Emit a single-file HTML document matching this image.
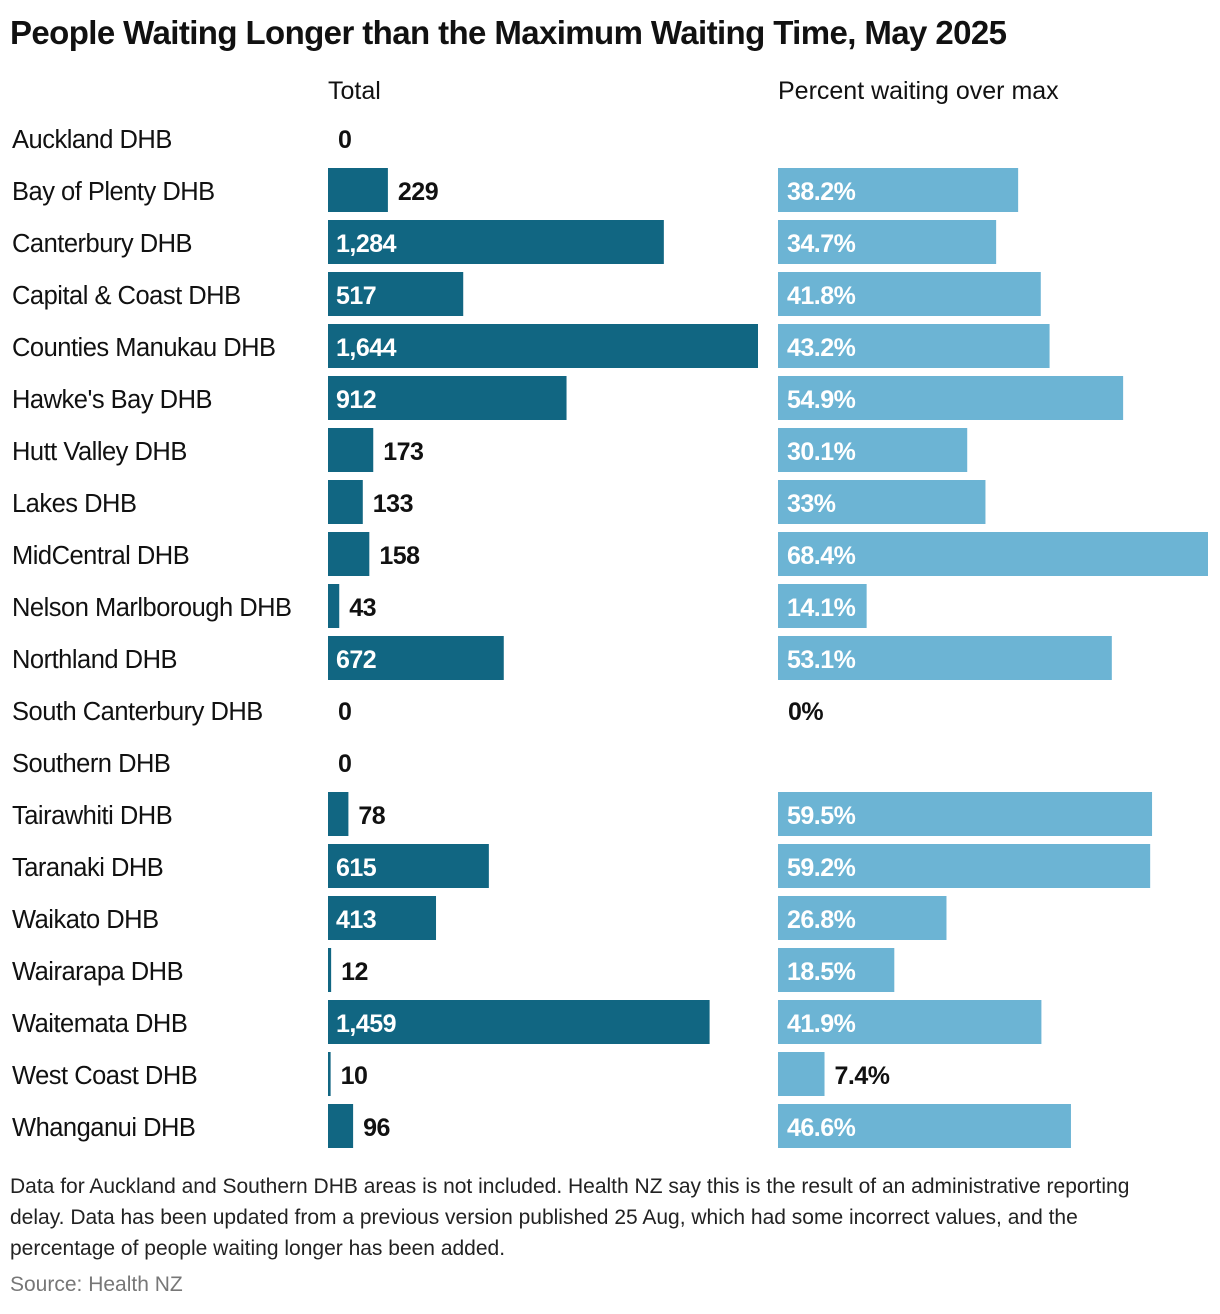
<!DOCTYPE html>
<html><head><meta charset="utf-8"><style>
body{margin:0;background:#fff;font-family:"Liberation Sans",sans-serif;color:#111;}
#wrap{position:relative;width:1220px;height:1314px;overflow:hidden;}
.t{position:absolute;white-space:nowrap;}
</style></head><body>
<div id="wrap">
<div class="t" style="left:10px;top:14px;font-size:33px;font-weight:bold;letter-spacing:-0.6px;">People Waiting Longer than the Maximum Waiting Time, May 2025</div>
<div class="t" style="left:328px;top:77px;font-size:25px;">Total</div>
<div class="t" style="left:778px;top:77px;font-size:25px;">Percent waiting over max</div>
<svg id="chart" width="1220" height="1170" style="position:absolute;left:0;top:0"></svg>
<div class="t" style="left:10px;top:1171px;font-size:21px;line-height:31px;color:#222;white-space:normal;width:1170px;">Data for Auckland and Southern DHB areas is not included. Health NZ say this is the result of an administrative reporting delay. Data has been updated from a previous version published 25 Aug, which had some incorrect values, and the percentage of people waiting longer has been added.</div>
<div class="t" style="left:10px;top:1273px;font-size:21px;color:#777;">Source: Health NZ</div>
</div>
<script>
const categories=["Auckland DHB","Bay of Plenty DHB","Canterbury DHB","Capital & Coast DHB","Counties Manukau DHB","Hawke's Bay DHB","Hutt Valley DHB","Lakes DHB","MidCentral DHB","Nelson Marlborough DHB","Northland DHB","South Canterbury DHB","Southern DHB","Tairawhiti DHB","Taranaki DHB","Waikato DHB","Wairarapa DHB","Waitemata DHB","West Coast DHB","Whanganui DHB"];
const totals=[0,229,1284,517,1644,912,173,133,158,43,672,0,0,78,615,413,12,1459,10,96];
const percents=[null,38.2,34.7,41.8,43.2,54.9,30.1,33,68.4,14.1,53.1,0,null,59.5,59.2,26.8,18.5,41.9,7.4,46.6];
const NS="http://www.w3.org/2000/svg";
const svg=document.getElementById('chart');
const rowY=i=>117+i*52;
const BH=44;
const xT=v=>v/Math.max(...totals)*430;
const xP=v=>v/Math.max(...percents.filter(p=>p!==null))*430;
function txt(x,y,s,fill,weight,name,size){
  const t=document.createElementNS(NS,'text');
  t.setAttribute('x',x);t.setAttribute('y',y);t.setAttribute('fill',fill);
  t.setAttribute('font-size',size||'25');t.setAttribute('font-weight',weight);
  t.setAttribute('font-family','Liberation Sans, sans-serif');t.setAttribute('letter-spacing','-0.5');
  t.textContent=s;
  
  
  svg.appendChild(t);return t;
}
function bar(x,y,w,fill,name){
  const r=document.createElementNS(NS,'rect');
  r.setAttribute('x',x);r.setAttribute('y',y);r.setAttribute('width',Math.max(w,0));r.setAttribute('height',BH);r.setAttribute('fill',fill);
  
  
  svg.appendChild(r);
}
categories.forEach((c,i)=>{
  const y=rowY(i);
  txt(12,y+31,c,'#111','normal','category-label','25.5');
  const w=xT(totals[i]);
  if(totals[i]>0)bar(328,y-1,Math.max(w,2),'#116682','total-bar');
  const s=totals[i].toLocaleString('en-US');
  const lw=s.length*14;
  if(w>lw+20)txt(336,y+31,s,'#fff','bold','total-value');
  else txt(328+w+10,y+31,s,'#111','bold','total-value');
  const p=percents[i];
  if(p!==null){
    const pw=xP(p);
    if(p>0)bar(778,y-1,pw,'#6cb4d4','percent-bar');
    const ps=p+'%';
    const plw=ps.length*14;
    if(pw>plw+16)txt(787,y+31,ps,'#fff','bold','percent-value');
    else txt(778+pw+10,y+31,ps,'#111','bold','percent-value');
  }
});
</script>
</body></html>
